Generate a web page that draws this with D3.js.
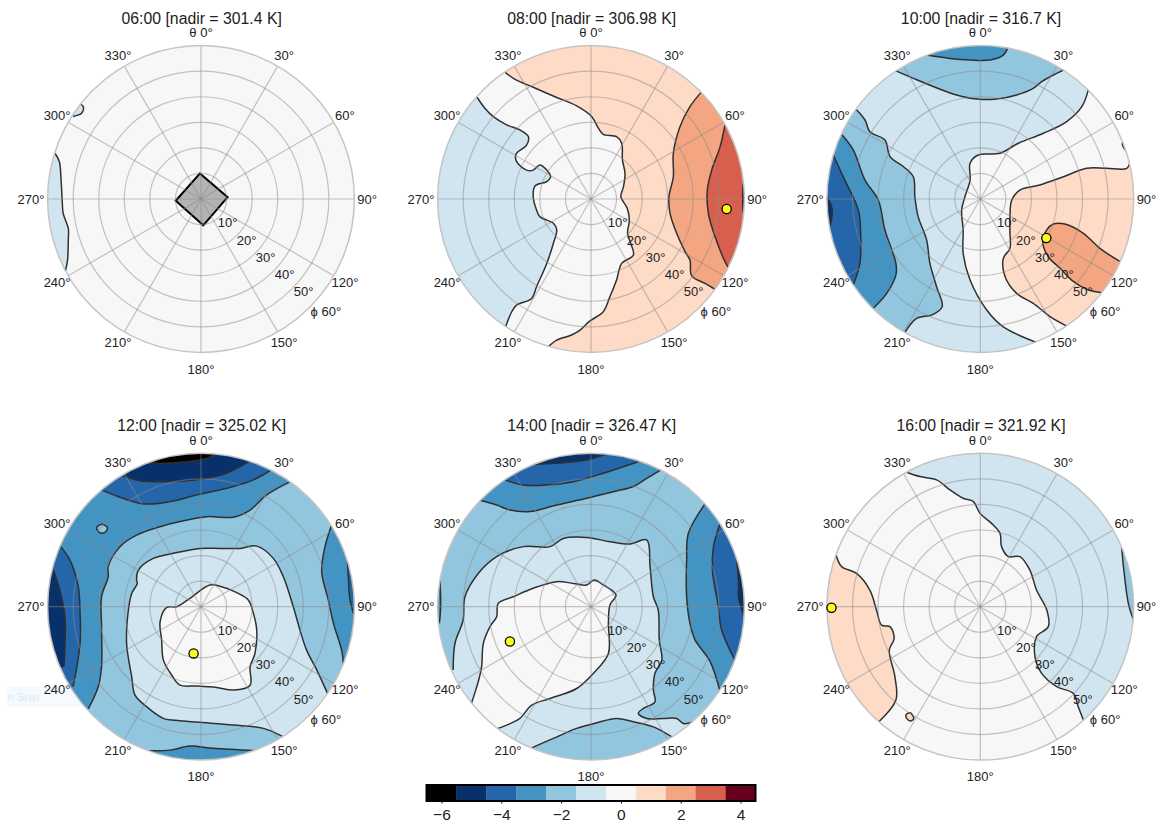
<!DOCTYPE html>
<html><head><meta charset="utf-8">
<script src="https://cdn.jsdelivr.net/npm/d3@7"></script>
<style>html,body{margin:0;padding:0;background:#fff;overflow:hidden}svg{display:block}text{font-family:"Liberation Sans",Arial,sans-serif;fill:#222}</style>
</head><body><svg id="c" width="1156" height="823"></svg>
<script>
// colour levels (K difference from nadir)
const levels=[-6,-5,-4,-3,-2,-1,0,1,2,3,4];
const levelColors=["#000000","#08306b","#2566ab","#4393c3","#92c5de","#d1e5f0","#f7f7f7","#fddbc7","#f4a582","#d6604d","#67001f"];
const colourTicks=[-6,-4,-2,0,2,4];
const azimuthTicks=[0,30,60,90,120,150,180,210,240,270,300,330];
const azimuthLabels=["θ 0°","30°","60°","90°","120°","150°","180°","210°","240°","270°","300°","330°"];
const azimuthLabelRadius=[65,65,65,65,65,65,66.5,65,65,66.5,65,65];
const zenithTicks=[10,20,30,40,50,60];
const zenithLabels=["10°","20°","30°","40°","50°","ϕ 60°"];
const titles=["06:00 [nadir = 301.4 K]","08:00 [nadir = 306.98 K]","10:00 [nadir = 316.7 K]","12:00 [nadir = 325.02 K]","14:00 [nadir = 326.47 K]","16:00 [nadir = 321.92 K]"];
const baseLevels=[0,1,-1,-2,-2,0];
// hottest view per panel: [azimuth, zenith]; first panel has none
const hotspots=[null,[94.2,53.2],[120.6,30],[189,18.5],[246.8,34.5],[269.6,58.2]];
// nadir footprint in panel 1, [east, north] zenith degrees
const footprint=[[-0.4,10],[10.4,0.7],[0.9,-10.3],[-9.9,-0.7]];

// contours: [east, north] in degrees of zenith angle on the polar plot
const p1a=[[-57.1,17.9],[-55.4,14.6],[-54.8,8.7],[-54.3,-0.4],[-53.9,-5.6],[-51.9,-11.5],[-51.9,-16],[-52.2,-23.9],[-53,-28]];
const p1b=[[-47.6,37.4],[-46,36.1],[-46.7,33.5],[-50,32.3]];

const p2zero=[[-33.7,49.6],[-29.7,46.8],[-22.6,43.7],[-13.4,39.7],[-5.6,36.4],[0.3,32.2],[2.9,27.7],[4.8,25.3],[10,24.4],[12,21.8],[12.3,15.3],[13.3,10],[12.7,4.8],[11.7,0.9],[14.2,-3.7],[15,-8.2],[14.3,-13.4],[15.5,-17.3],[16.6,-21.9],[12,-25.2],[10,-31.7],[7.4,-38.2],[4.8,-44.1],[-0.4,-47.7],[-4.3,-51.3],[-7.6,-53.2],[-13.4,-55.2],[-16.7,-57.8]];
const p2m1=[[-44.7,40],[-41.5,35.5],[-38.2,32.2],[-33,29],[-27.8,27],[-24.5,24.4],[-25.2,21.1],[-29.3,17.6],[-29.1,14.6],[-25.2,11.3],[-22.6,11.3],[-20,13.3],[-17.3,11.3],[-15.8,8.7],[-17.3,6.8],[-21.9,5.1],[-22.6,0.9],[-21.5,-3.7],[-20,-6.9],[-14.7,-9.5],[-13.4,-12.1],[-14.7,-17.3],[-17.3,-25.2],[-21.3,-34.3],[-23.2,-38.9],[-29.1,-41.5],[-31,-44.1],[-33.4,-50]];
const p2p2=[[43.3,42],[38.7,36.1],[34.8,28.3],[32.2,17.9],[32.2,8.7],[30.5,0.9],[30.9,-5.6],[33.5,-13.4],[36.8,-20.6],[38.7,-23.9],[39.4,-30.1],[44.6,-33],[48.5,-35.3]];
const p2p3=[[52.4,29],[50.5,20.5],[47.2,11.3],[45.5,3.5],[45.9,-5.6],[48.5,-14.7],[51.8,-23.2],[53.7,-26.9]];
const p2p4=[[59.5,5.7],[59.3,0],[59.5,-5]];

const p3topM2=[[-33,50.1],[-26.2,47.2],[-18.4,44],[-9.3,40.7],[-1.4,39.1],[6.4,39.1],[14.2,40.7],[20.7,43.3],[24,45.9],[28.6,48.5],[33.1,50.7]];
const p3topM3=[[-21,56.3],[-11.9,55],[-4,54.4],[3.8,54.4],[9,56.3],[10.7,59]];
const p3leftM2=[[-48.7,35.2],[-45.1,30.9],[-43.2,26.3],[-37.3,23.1],[-35.3,16.6],[-30.1,12.7],[-26.2,8.7],[-25.6,0.9],[-24.3,-6.9],[-21,-16],[-19.7,-25.2],[-17.1,-34.3],[-14.9,-42.1],[-18.4,-45.1],[-24.9,-46.7],[-27.5,-49.3],[-29.5,-52.3]];
const p3leftM3=[[-54.3,25.3],[-49.7,19.2],[-45.1,7.4],[-39.9,-0.4],[-37.3,-12.1],[-33,-25.2],[-33,-29.7],[-36.6,-36.9],[-41.9,-42.8]];
const p3leftM4=[[-57.5,17.2],[-53,7.4],[-47.7,-4.3],[-46.8,-13.4],[-47.1,-25.2],[-49.7,-33.7]];
const p3leftM5=[[-59.9,0.9],[-57.9,-4.3],[-58.8,-10.8]];
const p3zero=[[42.3,42.9],[39.7,36.1],[33.8,30.3],[24.7,25.7],[14.9,21.8],[7.7,17.9],[-0.8,17.2],[-4,14],[-4,7.4],[-6,0.9],[-7.3,-4.3],[-6.7,-12.1],[-6.7,-21.3],[-4,-31.7],[2.5,-43.4],[9,-50],[22,-56.1]];
const p3p1=[[58.6,14.6],[57.3,12],[49.4,12],[41.6,12],[32.5,8.7],[23.3,5.5],[15.5,3.5],[12.3,-0.4],[11.6,-6.9],[11.6,-13.4],[11.6,-19.3],[9,-23.2],[9.7,-30.4],[14.2,-36.9],[20.7,-40.8],[27.3,-46],[33.8,-49.7]];
const p3p2=[[54.7,-24.5],[46.8,-19.3],[40.3,-13.4],[33.1,-9.8],[28.6,-9.8],[26,-12.1],[24.4,-16.7],[26.6,-22.6],[31.2,-27.1],[35.7,-31.7],[41.6,-35.3],[47.7,-36.7]];
const p3p1small=[[56,23.3],[55.6,21.1],[57.9,17.9]];

const p4m3=[[-44.1,-40],[-40.2,-31.3],[-38.9,-23.5],[-38.9,-7.8],[-38.9,3.9],[-36.3,11.7],[-36.3,15.7],[-31.7,23.5],[-25.2,28],[-16,31.3],[-8.2,33.3],[2.2,35.2],[12.7,35],[19.2,37.8],[25.7,43.7],[35.5,49.2]];
const p4hole=[[-40.8,30.9],[-38.9,32.2],[-36.6,31],[-37.6,29.1],[-39.8,29.1]];
const p4topM4=[[-38.9,45.7],[-33,43.3],[-22.6,40.2],[-12.1,41.1],[-1.7,43.7],[10,46.3],[20.5,49.6],[27.7,53.7]];
const p4topM5=[[-31,51.3],[-23.9,49.3],[-13.4,48.9],[-0.4,49.8],[10,52.2],[19.8,57.4]];
const p4topM6=[[-20.6,56.3],[-14.7,56.1],[-5.6,56.7],[2.2,58],[6.1,60]];
const p4leftM4=[[-54.9,23.5],[-51.3,18.3],[-48,7.8],[-47.3,-2.6],[-47.3,-14.3],[-50,-31.3]];
const p4leftM5=[[-58.2,15.7],[-55.2,6.5],[-53.2,-3.9],[-53.2,-15.7],[-53.6,-23.5]];
const p4rightM3=[[51.1,32],[48.5,23.5],[47.2,13.7],[49.8,2.6],[51.8,-6.5],[55,-17],[55.7,-22.2]];
const p4rightM4=[[57.3,17.6],[57.7,10.4],[58.3,2.6],[60.3,-4.6]];
const p4bottomM3=[[-20.2,-56.3],[-12.1,-56.1],[-4.3,-54.5],[4.8,-55.4],[21.1,-56.3]];
const p4m1=[[49.8,-34.6],[45.3,-24.8],[41.3,-17],[38.7,-9.1],[36.1,0],[32.2,11.7],[28.3,18.9],[21.8,23.7],[15.3,22.8],[7.4,22.8],[-0.4,22.8],[-10.8,20.9],[-18.7,18.9],[-24.5,14.3],[-25.2,10.4],[-24.9,9.1],[-27.1,5.2],[-28.4,-1.3],[-29.1,-14.3],[-27.1,-27.4],[-25.8,-34.6],[-21.3,-39.1],[-14.7,-43.7],[-8.2,-44.6],[2.2,-45.4],[12.7,-46.3],[24.4,-47.6],[32.2,-50.9]];
const p4zero=[[-13.4,-0.3],[-9.5,0],[-4.3,3.3],[3.5,8.5],[8.1,7.8],[14,5.5],[18.5,2.6],[20.5,-2.6],[21.8,-9.1],[21.1,-18.3],[19.2,-23.5],[19.2,-30.7],[12.7,-32.6],[6.1,-31.6],[-1.7,-31],[-8.2,-30.7],[-11.5,-26.7],[-14.7,-20.9],[-15.4,-13],[-16,-5.9]];

const p5topM3=[[-43.2,41.5],[-36.9,39.8],[-31.7,37.8],[-23.9,37.2],[-13.4,39.8],[-1.7,42.4],[8.7,45],[16.6,47],[21.8,50.2],[27.7,53.7]];
const p5topM4=[[-33.7,49.6],[-26.5,47.6],[-17.3,47.6],[-6.9,48.9],[4.8,52.2],[19.2,57]];
const p5topM5=[[-22.3,55.7],[-13.4,56.1],[-1.7,57.4],[6.8,60]];
const p5rightM3=[[44.6,40.2],[38.1,28.7],[37.4,18.3],[37.4,3.9],[38.7,-6.5],[40.7,-13],[46.6,-21.5],[50.5,-33.3]];
const p5rightM4=[[50.5,32.6],[47.9,23.5],[47.5,14.3],[49.8,0],[51.1,-9.1],[56.3,-20.9]];
const p5rightM5=[[57,18.3],[57.7,9.1],[57.7,3.3],[59.9,-3.9]];
const p5leftM3=[[-59.1,10.4],[-58.8,0],[-59.3,-6.5]];
const p5m1=[[-53.9,-24.8],[-53.2,-14.3],[-50,-5.2],[-49.3,3.9],[-44.1,13],[-36.9,19.6],[-26.5,23.5],[-16,23.5],[-10.8,26.7],[-1.7,27.1],[7.4,25.4],[15.3,24.5],[21.8,26.1],[23.1,15.7],[24.4,3.9],[26.3,-1.3],[26.7,-13],[27.7,-20.9],[25,-26.1],[24.4,-32.6],[25,-37.2],[20.5,-39.8],[18.5,-41.7],[21.8,-43.7],[28.3,-43.7],[33.5,-43.7],[36.1,-45.7],[40,-45]];
const p5bottomM2=[[31.6,-50.9],[24.4,-47],[16.6,-45],[10,-43.7],[2.2,-45.4],[-5.6,-47.6],[-14.7,-51.5],[-23.2,-55.2]];
const p5zero=[[-46.7,-37.6],[-44.1,-29.3],[-42.8,-23.5],[-42.1,-14.3],[-39.5,-7.8],[-36.9,-3.9],[-36.3,1.3],[-30.4,3.9],[-22.6,7.2],[-13.4,9.8],[-6.9,9.1],[-1.7,8.5],[1.2,10.4],[4.8,8.5],[9.8,4.6],[7.4,0.7],[6.8,-6.5],[6.8,-18.3],[0.9,-26.1],[-5.6,-32],[-16,-35.9],[-23.2,-38.5],[-27.8,-43.7],[-33,-46.3],[-36.3,-47.6]];

const p6m1=[[-28.8,52.6],[-23.6,50.9],[-17.1,49.6],[-11.9,45.7],[-6.7,42.4],[-2.7,41.1],[-0.1,36.5],[4.4,32.6],[7.7,28.7],[8.3,23.5],[11,19.6],[15.5,19.6],[19.4,14.3],[22,6.5],[26,-1.3],[26.6,-7.8],[22,-11.7],[21.4,-19.6],[24,-26.1],[29.9,-31.3],[36.4,-33.9],[38.3,-39.1],[40.3,-44.3]];
const p6m2=[[55.3,23.5],[56,15.7],[57.9,1.3],[59.9,-5.2]];
const p6p1=[[-56.5,20.6],[-54.3,15.7],[-48.4,13],[-43.2,6.5],[-40.6,-1.3],[-38.6,-7.2],[-35.3,-7.8],[-33.7,-12.4],[-35.6,-17],[-33.4,-27.4],[-33,-36.5],[-39.7,-45]];
const p6blob=[[-29.1,-42.4],[-27.5,-41.5],[-26,-43.7],[-27.3,-44.7],[-28.8,-43.7]];

// region table: level, contour, way round the rim (+1 azimuth up, -1 azimuth down, 0 closed loop)
const regions=[
 [[-1,p1a,1],[-1,p1b,1]],
 [[0,p2zero,1],[-1,p2m1,1],[2,p2p2,-1],[3,p2p3,-1],[4,p2p4,-1]],
 [[-2,p3topM2,-1],[-3,p3topM3,-1],[-2,p3leftM2,1],[-3,p3leftM3,1],[-4,p3leftM4,1],[-5,p3leftM5,1],[0,p3zero,-1],[1,p3p1,-1],[2,p3p2,-1],[1,p3p1small,-1]],
 [[-3,p4m3,-1],[-2,p4hole,0],[-4,p4topM4,-1],[-5,p4topM5,-1],[-6,p4topM6,-1],[-4,p4leftM4,1],[-5,p4leftM5,1],[-3,p4rightM3,-1],[-4,p4rightM4,-1],[-3,p4bottomM3,1],[-1,p4m1,-1],[0,p4zero,0]],
 [[-3,p5topM3,-1],[-4,p5topM4,-1],[-5,p5topM5,-1],[-3,p5rightM3,-1],[-4,p5rightM4,-1],[-5,p5rightM5,-1],[-3,p5leftM3,1],[-1,p5m1,1],[-2,p5bottomM2,-1],[0,p5zero,1]],
 [[-1,p6m1,-1],[-2,p6m2,-1],[1,p6p1,1],[1,p6blob,0]]
];

const svg=d3.select("#c");
const colour=d3.scaleOrdinal(levels,levelColors);
const R=153.4;
const columnScale=d3.scaleOrdinal([0,1,2],[201,591,980.3]);
const rowScale=d3.scaleOrdinal([0,1],[199,606.7]);
const rad=d=>d*Math.PI/180;

// faint screen-capture ghost left behind in the source image
svg.append("rect").attr("x",7).attr("y",687).attr("width",82).attr("height",20).attr("fill","#f4fafe");
svg.append("text").attr("x",8).attr("y",701).attr("font-size",11).style("fill","#dfe9ef").text("n Snip");

titles.forEach((title,i)=>{
  const cx=columnScale(i%3), cy=rowScale(Math.floor(i/3));
  const x=d3.scaleLinear([-60,60],[cx-R,cx+R]);
  const y=d3.scaleLinear([-60,60],[cy+R,cy-R]);
  const r=d3.scaleLinear([0,60],[0,R]);
  const g=svg.append("g");
  const polar=(az,zen)=>{const p=d3.pointRadial(rad(az),zen);return [x(p[0]),y(-p[1])];};
  const clipId="clip"+i;
  g.append("clipPath").attr("id",clipId).append("circle").attr("cx",cx).attr("cy",cy).attr("r",r(60));
  const plot=g.append("g").attr("clip-path",`url(#${clipId})`);
  plot.append("circle").attr("cx",cx).attr("cy",cy).attr("r",r(60)).attr("fill",colour(baseLevels[i]));

  const open=d3.line().x(d=>x(d[0])).y(d=>y(d[1])).curve(d3.curveCatmullRom.alpha(0.5));
  const loop=d3.line().x(d=>x(d[0])).y(d=>y(d[1])).curve(d3.curveCatmullRomClosed.alpha(0.5));
  const azOf=p=>(Math.atan2(p[0],p[1])*180/Math.PI+360)%360;
  const rimClose=(pts,dir)=>{
    const from=azOf(pts[pts.length-1]), to=azOf(pts[0]);
    const span=dir>0?((to-from+360)%360):((from-to+360)%360);
    let s="";
    for(let k=0;k<=span+1e-6;k+=3){const q=polar(from+dir*k,66);s+=`L${q[0]},${q[1]}`;}
    const q=polar(to,66);s+=`L${q[0]},${q[1]}Z`;
    return s;
  };
  regions[i].forEach(([lev,pts,dir])=>{
    plot.append("path").attr("d",dir===0?loop(pts):open(pts)+rimClose(pts,dir)).attr("fill",colour(lev)).attr("stroke","none");
  });
  regions[i].forEach(([lev,pts,dir])=>{
    plot.append("path").attr("d",dir===0?loop(pts):open(pts)).attr("fill","none").attr("stroke","#303030").attr("stroke-width",1.5);
  });
  if(i===0){
    plot.append("path").attr("d",d3.line().x(d=>x(d[0])).y(d=>y(d[1])).curve(d3.curveLinearClosed)(footprint))
      .attr("fill","#b3b3b3").attr("stroke","#000").attr("stroke-width",2);
  }
  // grid
  const grid=g.append("g").attr("fill","none").attr("stroke","#8c8c8c").attr("stroke-opacity",0.5).attr("stroke-width",1.2);
  zenithTicks.slice(0,-1).forEach(z=>grid.append("circle").attr("cx",cx).attr("cy",cy).attr("r",r(z)));
  azimuthTicks.forEach(a=>{const q=polar(a,60);grid.append("line").attr("x1",cx).attr("y1",cy).attr("x2",q[0]).attr("y2",q[1]);});
  g.append("circle").attr("cx",cx).attr("cy",cy).attr("r",r(60)).attr("fill","none").attr("stroke","#c4c4c4").attr("stroke-width",1.5);
  // hottest view
  if(hotspots[i]){
    const q=polar(hotspots[i][0],hotspots[i][1]);
    g.append("circle").attr("cx",q[0]).attr("cy",q[1]).attr("r",4.6).attr("fill","#fbfb1e").attr("stroke","#000").attr("stroke-width",1.3);
  }
  // labels
  azimuthLabels.forEach((t,k)=>{
    const q=polar(azimuthTicks[k],azimuthLabelRadius[k]);
    g.append("text").attr("x",q[0]).attr("y",q[1]).attr("text-anchor","middle").attr("dominant-baseline","central").attr("font-size",13).text(t);
  });
  zenithLabels.forEach((t,k)=>{
    const q=polar(132,zenithTicks[k]+(k===5?5.7:4));
    g.append("text").attr("x",q[0]).attr("y",q[1]).attr("text-anchor","middle").attr("dominant-baseline","central").attr("font-size",13).text(t);
  });
  g.append("text").attr("x",cx+0.7).attr("y",cy-181).attr("text-anchor","middle").attr("dominant-baseline","central").attr("font-size",15.8).text(title);
});

// colour bar
const barX=d3.scaleLinear([-6.5,4.5],[426.5,755.5]);
const barTop=785, barH=16;
const bar=svg.append("g");
levels.forEach((l,k)=>{
  bar.append("rect").attr("x",barX(l-0.5)).attr("y",barTop).attr("width",barX(l+0.5)-barX(l-0.5)+0.3).attr("height",barH).attr("fill",levelColors[k]);
});
bar.append("rect").attr("x",barX(-6.5)).attr("y",barTop).attr("width",barX(4.5)-barX(-6.5)).attr("height",barH).attr("fill","none").attr("stroke","#000").attr("stroke-width",2);
const ax=svg.append("g").attr("transform",`translate(0,${barTop+barH})`).call(d3.axisBottom(barX).tickValues(colourTicks).tickSize(2.5).tickPadding(5));
ax.select(".domain").remove();
ax.selectAll("text").attr("font-size",15.5).style("font-family",'"Liberation Sans",Arial,sans-serif');
</script></body></html>
